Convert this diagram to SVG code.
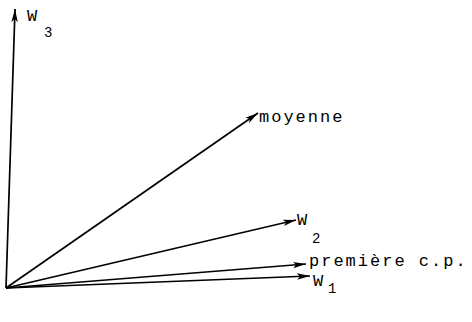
<svg xmlns="http://www.w3.org/2000/svg" width="472" height="322" viewBox="0 0 472 322">
<defs>
<marker id="ah" markerWidth="14" markerHeight="8" refX="13" refY="4" orient="auto" markerUnits="userSpaceOnUse">
<path d="M0,0.8 L13,4 L0,7.2 L3,4 Z" fill="#000"/>
</marker>
</defs>
<style>
.v{stroke:#000;stroke-width:1.7;fill:none;marker-end:url(#ah)}
.t{font-family:"Liberation Mono","DejaVu Sans Mono",monospace;font-size:17px;fill:#000;letter-spacing:2px}
.s{font-family:"Liberation Mono","DejaVu Sans Mono",monospace;font-size:14px;fill:#000}
</style>
<g id="connectors">
<line class="v" x1="6" y1="288" x2="15" y2="9"/>
<line class="v" x1="6" y1="288" x2="258" y2="113"/>
<line class="v" x1="6" y1="288" x2="296" y2="220"/>
<line class="v" x1="6" y1="288" x2="306" y2="264"/>
<line class="v" x1="6" y1="288" x2="310" y2="276"/>
</g>
<g id="w3"><text class="t" x="27" y="21">W</text><text class="s" x="44" y="37">3</text></g>
<g id="moyenne"><text class="t" x="259" y="122">moyenne</text></g>
<g id="w2"><text class="t" x="297" y="225">W</text><text class="s" x="312" y="243">2</text></g>
<g id="premiere"><text class="t" x="309" y="266">première c.p.</text></g>
<g id="w1"><text class="t" x="313" y="286">W</text><text class="s" x="328" y="293">1</text></g>
</svg>
